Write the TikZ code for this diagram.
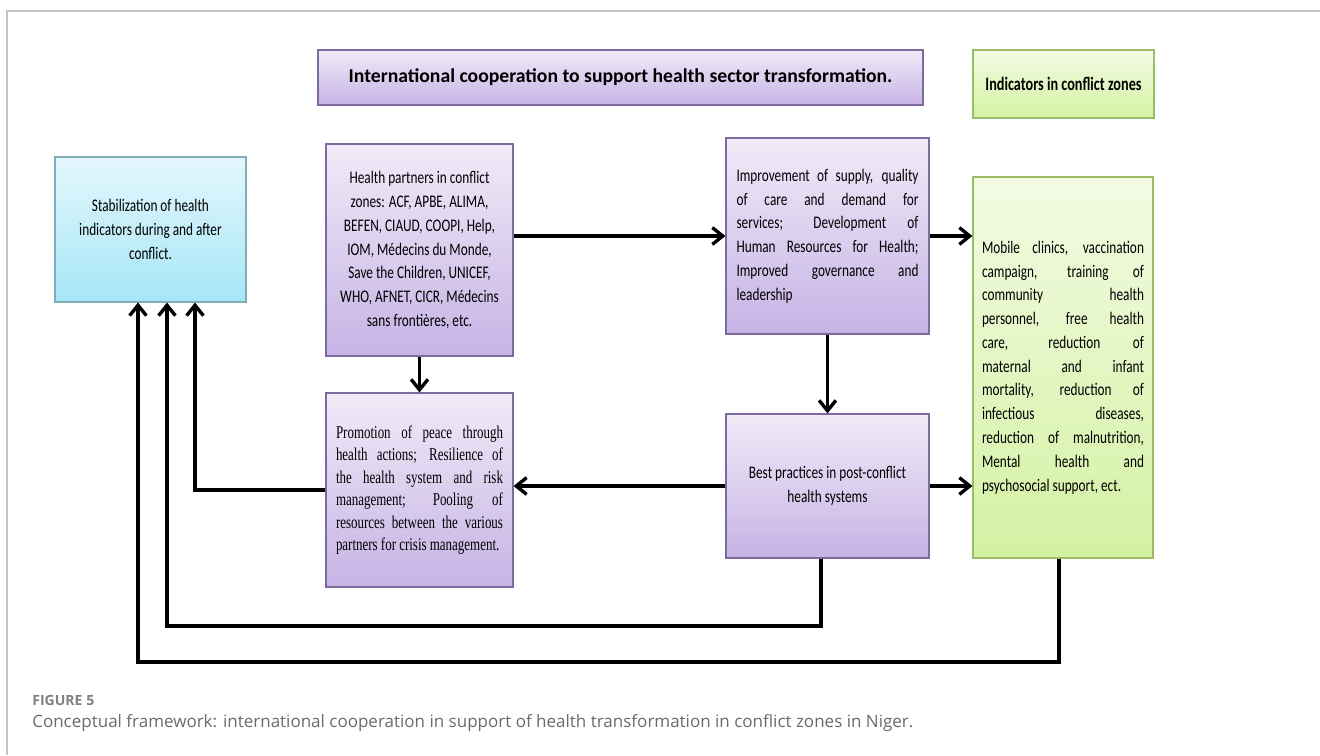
\documentclass[tikz,border=0pt]{standalone}
\usepackage{fontspec}
\setmainfont{Carlito}[FakeStretch=0.75]
\newfontfamily\kopfschrift{Carlito}
\newfontfamily\timesschrift{Liberation Serif}[FakeStretch=0.72]
\newfontfamily\captionschrift{Open Sans}
\usetikzlibrary{arrows.meta,shadows}
\tolerance=10000
\hbadness=10000

\definecolor{lilaoben}{HTML}{F1EBF8}
\definecolor{lilaunten}{HTML}{C6B3E5}
\definecolor{lilarand}{HTML}{7E6AA0}
\definecolor{blauoben}{HTML}{E4F7FC}
\definecolor{blauunten}{HTML}{A6E6F7}
\definecolor{blaurand}{HTML}{7FAEBB}
\definecolor{gruenoben}{HTML}{F3FAE3}
\definecolor{gruenunten}{HTML}{D3F2A3}
\definecolor{gruenrand}{HTML}{9BBB66}
\definecolor{rahmengrau}{HTML}{C4C4C4}
\definecolor{textgrau}{HTML}{6A6A6A}

\tikzset{
    kasten/.style={rectangle, line width=0.8pt, inner sep=0pt,
        font=\fontsize{12.6}{16.9}\selectfont,
        drop shadow={opacity=0.25, shadow xshift=1pt, shadow yshift=-1pt}},
    lila/.style={kasten, draw=lilarand, top color=lilaoben, bottom color=lilaunten},
    blau/.style={kasten, draw=blaurand, top color=blauoben, bottom color=blauunten},
    gruen/.style={kasten, draw=gruenrand, top color=gruenoben, bottom color=gruenunten},
    pfeil/.style={line width=2.4pt, -{Straight Barb[length=2.6mm, width=4.2mm]}}
}

\begin{document}
\begin{tikzpicture}
    \useasboundingbox (0,0) rectangle (33,-18.875);

    % Rahmen oben und links
    \draw[rahmengrau, line width=1pt] (0.175,-18.875) -- (0.175,-0.275) -- (33,-0.275);

    % Kopfzeile
    \node[lila, minimum width=15.125cm, minimum height=1.375cm,
          font=\kopfschrift\fontsize{14}{16}\selectfont\bfseries] (koop) at (15.5125,-1.9375)
        {International cooperation to support health sector transformation.};
    \node[gruen, minimum width=4.525cm, minimum height=1.7cm,
          font=\fontsize{13.5}{16}\selectfont\bfseries] (titel) at (26.5875,-2.1)
        {Indicators in conflict zones};

    % Ziel links
    \node[blau, minimum width=4.775cm, minimum height=3.625cm, align=center] (stabil) at (3.7625,-5.7375)
        {Stabilization of health\\ indicators during and after\\ conflict.};

    % Partner und Massnahmen
    \node[lila, minimum width=4.675cm, minimum height=5.3cm, align=center] (partner) at (10.4875,-6.25)
        {Health partners in conflict\\ zones: ACF, APBE, ALIMA,\\ BEFEN, CIAUD, COOPI, Help,\\
         IOM, Médecins du Monde,\\ Save the Children, UNICEF,\\ WHO, AFNET, CICR, Médecins\\
         sans frontières, etc.};
    \node[lila, minimum width=5.075cm, minimum height=4.9cm, text width=4.55cm,
          align=justify] (verbesserung) at (20.6875,-5.9)
        {Improvement of supply, quality\linebreak of care and demand for\linebreak
         services; Development of\linebreak Human Resources for Health;\linebreak
         Improved governance and\linebreak leadership};
    \node[gruen, minimum width=4.5cm, minimum height=9.525cm, text width=4.05cm,
          align=justify] (indikatoren) at (26.575,-9.1875)
        {Mobile clinics, vaccination\linebreak campaign, training of\linebreak
         community health\linebreak personnel, free health\linebreak
         care, reduction of\linebreak maternal and infant\linebreak
         mortality, reduction of\linebreak infectious diseases,\linebreak
         reduction of malnutrition,\linebreak Mental health and\linebreak
         psychosocial support, ect.};
    \node[lila, minimum width=4.675cm, minimum height=4.85cm, text width=4.175cm,
          align=justify, font=\timesschrift\fontsize{12.8}{16}\selectfont] (frieden) at (10.4875,-12.25)
        {Promotion of peace through\linebreak health actions; Resilience of\linebreak
         the health system and risk\linebreak management; Pooling of\linebreak
         resources between the various\linebreak partners for crisis management.};
    \node[lila, minimum width=5.075cm, minimum height=3.6cm, align=center] (praxis) at (20.6875,-12.15)
        {Best practices in post-conflict\\ health systems};

    % Pfeile zwischen den Kaesten
    \draw[pfeil] (partner.east |- verbesserung.west) -- (verbesserung.west);
    \draw[pfeil] (verbesserung.east) -- (verbesserung.east -| indikatoren.west);
    \draw[pfeil] (partner.south) -- (frieden.north);
    \draw[pfeil] (verbesserung.south) -- (praxis.north);
    \draw[pfeil] (praxis.west) -- (praxis.west -| frieden.east);
    \draw[pfeil] (praxis.east) -- (praxis.east -| indikatoren.west);

    % Rueckkopplung zur Stabilisierung
    \coordinate (rueck1) at (4.875,-12.25);
    \coordinate (rueck2) at (4.175,-15.65);
    \coordinate (rueck3) at (3.45,-16.55);
    \draw[pfeil] (frieden.west) -- (rueck1) -- (rueck1 |- stabil.south);
    \draw[pfeil] ([xshift=-0.1625cm]praxis.south) |- (rueck2) -- (rueck2 |- stabil.south);
    \draw[pfeil] ([xshift=-0.1cm]indikatoren.south) |- (rueck3) -- (rueck3 |- stabil.south);

    % Bildunterschrift
    \node[anchor=west, inner sep=0pt, text=textgrau!85,
          font=\captionschrift\fontsize{10}{12}\selectfont\bfseries] (figur) at (0.8,-17.5) {FIGURE 5};
    \node[anchor=west, inner sep=0pt, text=textgrau,
          font=\captionschrift\fontsize{12.1}{14}\selectfont] (unterschrift) at (0.8,-18.075)
        {Conceptual framework: international cooperation in support of health transformation in conflict zones in Niger.};
\end{tikzpicture}
\end{document}
